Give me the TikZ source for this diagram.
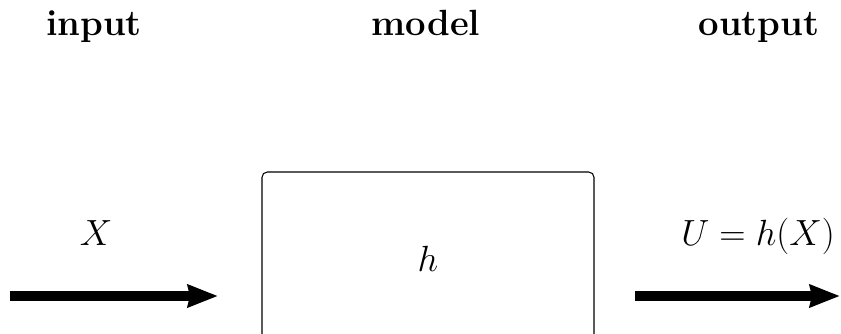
\documentclass[tikz,border=0pt]{standalone}
\usepackage{amsmath,amssymb}
\usetikzlibrary{arrows.meta}

\begin{document}
\begin{tikzpicture}[
  font=\huge,
  head/.style={anchor=base, font=\huge\bfseries},
  lbl/.style={anchor=base},
  modelbox/.style={rectangle, draw=black, line width=0.6pt, rounded corners=3pt,
                   minimum width=6.64cm, minimum height=3.48cm},
  flow/.style={line width=5.7pt, -{Stealth[length=0.6cm,width=0.44cm,inset=0.04cm]}}
]
\useasboundingbox (0,0) rectangle (16.82,-6.66);
\clip (0,0) rectangle (16.82,-6.66);

% column titles
\node[head] (tin)  at (1.88,-0.70)  {input};
\node[head] (tmod) at (8.52,-0.70)  {model};
\node[head] (tout) at (15.18,-0.70) {output};

% the model
\node[modelbox] (h) at (8.56,-5.18) {$h$};

\node[lbl] (xin)  at (1.92,-4.90)  {$X$};
\node[lbl] (uout) at (15.16,-4.90) {$U=h(X)$};

\coordinate (in0)  at (0.20,-5.92);
\coordinate (in1)  at (4.36,-5.92);
\coordinate (out0) at (12.70,-5.92);
\coordinate (out1) at (16.80,-5.92);

\draw[flow] (in0) -- (in1);
\draw[flow] (out0) -- (out1);

\end{tikzpicture}
\end{document}
